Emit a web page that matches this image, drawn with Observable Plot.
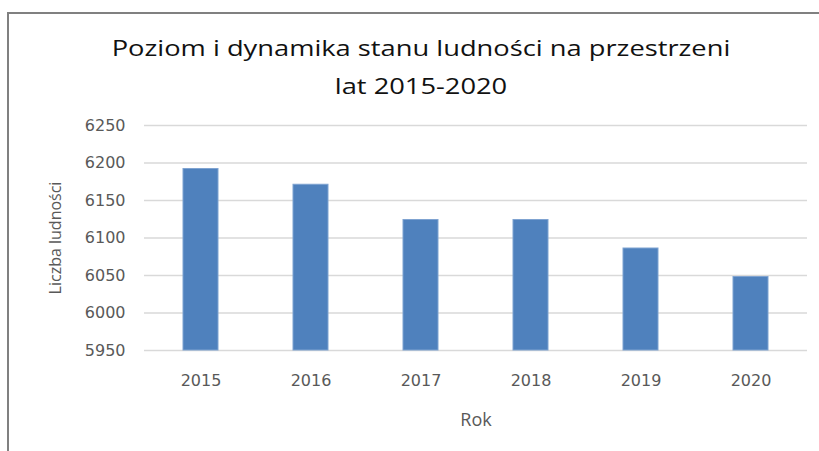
<!DOCTYPE html>
<html>
<head>
<meta charset="utf-8">
<script src="https://cdn.jsdelivr.net/npm/d3@7"></script>
<script src="https://cdn.jsdelivr.net/npm/@observablehq/plot@0.6"></script>
<style>
  html, body { margin: 0; padding: 0; background: #fff; }
  #wrap { position: relative; width: 819px; height: 451px; overflow: hidden; }
  #frame { position: absolute; left: 7px; top: 12px; width: 840px; height: 480px;
           border-left: 2px solid #808080; border-top: 2px solid #808080; box-sizing: border-box; }
  #title { position: absolute; left: 0; top: 28px; width: 842px; text-align: center;
           font-family: "Open Sans", sans-serif; font-size: 22px; line-height: 38px; color: #111;
           transform: scaleX(1.24); transform-origin: 421px 0; }
  #chart { position: absolute; left: 0; top: 100px; }
</style>
</head>
<body>
<div id="wrap">
  <div id="frame"></div>
  <div id="title">Poziom i dynamika stanu ludności na przestrzeni<br>lat 2015-2020</div>
  <div id="chart"></div>
</div>
<script>
const years = ["2015", "2016", "2017", "2018", "2019", "2020"];
const population = [6192, 6171, 6124, 6124, 6086, 6048];
const yTicks = [5950, 6000, 6050, 6100, 6150, 6200, 6250];
const xLabel = "Rok";
const yLabel = "Liczba ludności";

const data = years.map((year, i) => ({year, value: population[i]}));

const chart = Plot.plot({
  width: 819,
  height: 351,
  marginLeft: 144,
  marginRight: 12,
  marginTop: 25,
  marginBottom: 101,
  style: {fontFamily: "DejaVu Sans, sans-serif", fontSize: "16px", color: "#595959", background: "transparent"},
  x: {domain: years, paddingInner: 0.683, paddingOuter: 0.3415, label: null},
  y: {domain: [5950, 6250], label: null},
  marks: [
    Plot.gridY(yTicks, {stroke: "#d9d9d9", strokeOpacity: 1, strokeWidth: 1.5}),
    Plot.barY(data, {x: "year", y1: 5950, y2: "value", fill: "#4f81bd", stroke: "#7fa3d1", strokeWidth: 1}),
    Plot.axisY({ticks: yTicks, tickFormat: d3.format("d"), tickSize: 0, tickPadding: 19, label: null, fontSize: 16, fill: "#595959"}),
    Plot.axisX({tickSize: 0, tickPadding: 24, label: null, fontSize: 16, fill: "#595959"}),
    Plot.text([yLabel], {frameAnchor: "left", rotate: -90, dx: -89, textAnchor: "middle", lineAnchor: "middle", fontSize: 16, fontFamily: "Open Sans, sans-serif", fill: "#595959"}),
    Plot.text([xLabel], {frameAnchor: "bottom", dy: 70, textAnchor: "middle", lineAnchor: "middle", fontSize: 18, fontFamily: "Open Sans, sans-serif", fill: "#595959"})
  ]
});
document.getElementById("chart").appendChild(chart);
</script>
</body>
</html>
